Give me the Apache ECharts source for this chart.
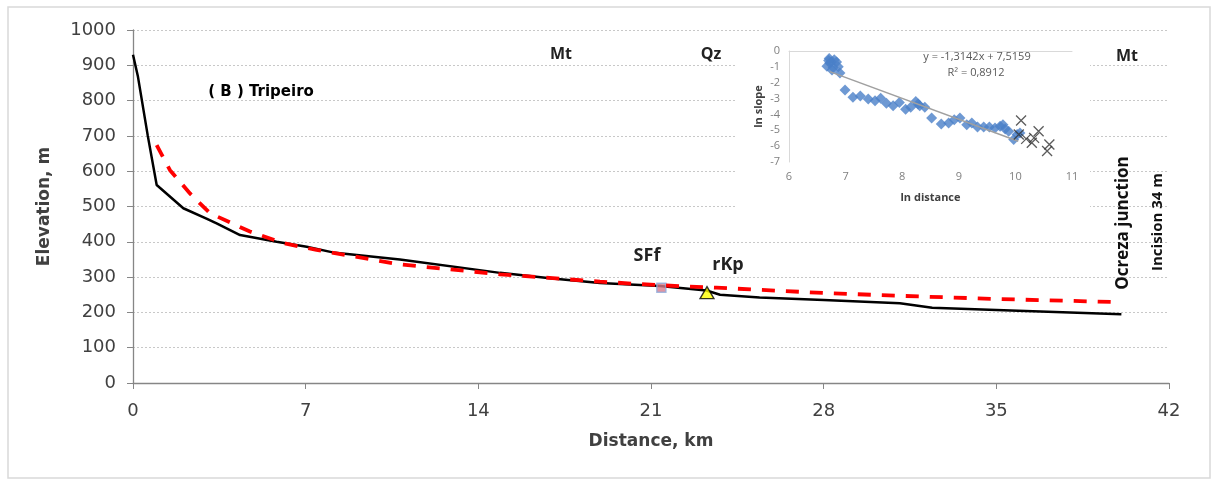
<!DOCTYPE html>
<html>
<head>
<meta charset="utf-8">
<script src="https://cdn.jsdelivr.net/npm/echarts@6/dist/echarts.min.js"></script>
<style>html,body{margin:0;padding:0;background:#fff;}#c{width:1217px;height:487px;}</style>
</head>
<body>
<div id="c"></div>
<script>
// ---- main profile data (km, m) ----
const profileKm   = [0, 0.2, 0.6, 0.96, 2.04, 3.0, 3.39, 4.34, 5.82, 7.04, 8.1, 10.82, 14.88, 16.9, 18.93, 21.36, 23.25, 23.8, 25.4, 28, 31.09, 32.4, 35, 40.07];
const profileElev = [930, 868, 700, 561, 495, 465, 452, 419, 400, 386, 370, 350, 312, 297, 283, 275, 262, 250, 242, 235, 226, 213, 207, 195];
const fitKm   = [0.96, 1.5, 2.31, 3.12, 4.74, 6.1, 7.44, 10.82, 14.88, 18.93, 21.36, 23.65, 25.4, 28, 31.09, 35, 40.07];
const fitElev = [674, 603, 537, 481, 429, 396, 377, 336, 308, 287, 277, 270, 264, 255, 247, 238, 229];
const sffPoint = [21.42, 270];
const rkpPoint = [23.27, 256];
const xTicks = [0, 7, 14, 21, 28, 35, 42];
const yTicks = [0, 100, 200, 300, 400, 500, 600, 700, 800, 900, 1000];

// ---- inset data (ln distance, ln slope) ----
const lnDist  = [6.71, 6.75, 6.67, 6.84, 6.87, 6.78, 6.90, 6.72, 6.80, 6.76, 6.70, 6.99, 7.13, 7.26, 7.40, 7.52, 7.62, 7.72, 7.84, 7.95, 8.06, 8.15, 8.24, 8.28, 8.31, 8.40, 8.52, 8.69, 8.82, 8.92, 9.02, 9.14, 9.23, 9.33, 9.44, 9.54, 9.64, 9.73, 9.78, 9.82, 9.88, 9.97, 10.03, 10.08];
const lnSlope = [-0.48, -0.69, -0.96, -0.69, -1.0, -1.04, -1.38, -0.75, -0.55, -1.2, -0.6, -2.46, -2.92, -2.83, -3.02, -3.13, -2.98, -3.29, -3.46, -3.25, -3.67, -3.54, -3.19, -3.35, -3.46, -3.54, -4.23, -4.60, -4.54, -4.33, -4.23, -4.65, -4.54, -4.79, -4.79, -4.79, -4.85, -4.75, -4.65, -4.92, -5.06, -5.58, -5.27, -5.17];
const lnDistX  = [10.10, 10.06, 10.19, 10.29, 10.33, 10.41, 10.56, 10.60];
const lnSlopeX = [-4.38, -5.27, -5.54, -5.79, -5.48, -5.06, -6.31, -5.90];
const trendX = [6.72, 10.05];
const trendY = [-1.30, -5.69];

const zip = (a, b) => a.map((v, i) => [v, b[i]]);

const chart = echarts.init(document.getElementById('c'));
const mainFont = 'DejaVu Sans';
const calib = 'Open Sans';

chart.setOption({
  animation: false,
  backgroundColor: '#fff',
  grid: [
    { left: 133, right: 48, top: 30, bottom: 104 },
    { left: 789, top: 51, width: 283, height: 111 }
  ],
  xAxis: [
    {
      gridIndex: 0, type: 'value', min: xTicks[0], max: xTicks[xTicks.length - 1], interval: 7,
      name: 'Distance, km', nameLocation: 'middle', nameGap: 50,
      nameTextStyle: { fontFamily: mainFont, fontWeight: 'bold', fontSize: 17, color: '#404040' },
      axisLine: { lineStyle: { color: '#868686', width: 1.3 } },
      axisTick: { show: true, length: 6, lineStyle: { color: '#868686' } },
      axisLabel: { fontFamily: mainFont, fontSize: 18, color: '#404040', margin: 19, formatter: v => String(v) },
      splitLine: { show: false }
    },
    {
      gridIndex: 1, type: 'value', min: 6, max: 11, interval: 1, z: 5,
      name: 'ln distance', nameLocation: 'middle', nameGap: 30,
      nameTextStyle: { fontFamily: calib, fontWeight: 'bold', fontSize: 11, color: '#404040' },
      axisLine: { lineStyle: { color: '#d9d9d9', width: 1 } },
      axisTick: { show: false },
      axisLabel: { fontFamily: calib, fontSize: 11, color: '#808080', margin: 9 },
      splitLine: { show: false }
    }
  ],
  yAxis: [
    {
      gridIndex: 0, type: 'value', min: yTicks[0], max: yTicks[yTicks.length - 1], interval: 100,
      name: 'Elevation, m', nameLocation: 'middle', nameGap: 80, nameRotate: 90,
      nameTextStyle: { fontFamily: mainFont, fontWeight: 'bold', fontSize: 17, color: '#404040' },
      axisLine: { show: true, lineStyle: { color: '#868686', width: 1.3 } },
      axisTick: { show: true, length: 6, lineStyle: { color: '#868686' } },
      axisLabel: { fontFamily: mainFont, fontSize: 18, color: '#404040', margin: 17, formatter: v => String(v) },
      splitLine: { show: true, lineStyle: { color: '#c8c8c8', type: [2, 2], width: 1 } }
    },
    {
      gridIndex: 1, type: 'value', min: -7, max: 0, interval: 1, z: 5,
      name: 'ln slope', nameLocation: 'middle', nameGap: 25, nameRotate: 90,
      nameTextStyle: { fontFamily: calib, fontWeight: 'bold', fontSize: 11, color: '#404040' },
      axisLine: { show: true, lineStyle: { color: '#d9d9d9', width: 1 } },
      axisTick: { show: false },
      axisLabel: { fontFamily: calib, fontSize: 11, color: '#808080', margin: 9 },
      splitLine: { show: false }
    }
  ],
  graphic: [
    { type: 'rect', z: -10, shape: { x: 8, y: 7, width: 1202, height: 471 }, style: { fill: 'none', stroke: '#d9d9d9', lineWidth: 1.5 } },
    { type: 'rect', z: 1, shape: { x: 735, y: 34, width: 355, height: 180 }, style: { fill: '#ffffff' } },
    { type: 'text', z: 10, x: 261, y: 92, style: { text: '( B ) Tripeiro', fontFamily: mainFont, fontWeight: 'bold', fontSize: 15, fill: '#000', align: 'center', verticalAlign: 'middle' } },
    { type: 'text', z: 10, x: 561, y: 54, style: { text: 'Mt', fontFamily: calib, fontWeight: 'bold', fontSize: 16, fill: '#222', align: 'center', verticalAlign: 'middle' } },
    { type: 'text', z: 10, x: 711, y: 54, style: { text: 'Qz', fontFamily: calib, fontWeight: 'bold', fontSize: 16, fill: '#222', align: 'center', verticalAlign: 'middle' } },
    { type: 'text', z: 10, x: 1127, y: 56, style: { text: 'Mt', fontFamily: calib, fontWeight: 'bold', fontSize: 16, fill: '#222', align: 'center', verticalAlign: 'middle' } },
    { type: 'text', z: 10, x: 647, y: 256, style: { text: 'SFf', fontFamily: calib, fontWeight: 'bold', fontSize: 18, fill: '#222', align: 'center', verticalAlign: 'middle' } },
    { type: 'text', z: 10, x: 728, y: 265, style: { text: 'rKp', fontFamily: calib, fontWeight: 'bold', fontSize: 18, fill: '#222', align: 'center', verticalAlign: 'middle' } },
    { type: 'text', z: 10, x: 1123, y: 223, rotation: Math.PI / 2, style: { text: 'Ocreza junction', fontFamily: calib, fontWeight: 'bold', fontSize: 17, fill: '#111', align: 'center', verticalAlign: 'middle' } },
    { type: 'text', z: 10, x: 1158, y: 222, rotation: Math.PI / 2, style: { text: 'Incision 34 m', fontFamily: calib, fontWeight: 'bold', fontSize: 15, fill: '#111', align: 'center', verticalAlign: 'middle' } },
    { type: 'text', z: 10, x: 977, y: 57, style: { text: 'y = -1,3142x + 7,5159', fontFamily: calib, fontSize: 11, fill: '#595959', align: 'center', verticalAlign: 'middle' } },
    { type: 'text', z: 10, x: 976, y: 73, style: { text: 'R² = 0,8912', fontFamily: calib, fontSize: 11, fill: '#595959', align: 'center', verticalAlign: 'middle' } }
  ],
  series: [
    {
      type: 'line', xAxisIndex: 0, yAxisIndex: 0, z: 3, symbol: 'none',
      data: zip(profileKm, profileElev),
      lineStyle: { color: '#000', width: 2.5 }
    },
    {
      type: 'scatter', xAxisIndex: 0, yAxisIndex: 0, z: 4,
      symbol: 'rect', symbolSize: 9,
      data: [sffPoint],
      itemStyle: { color: '#d97a8a', borderColor: '#8eaadb', borderWidth: 1.5 }
    },
    {
      type: 'line', xAxisIndex: 0, yAxisIndex: 0, z: 5, symbol: 'none',
      data: zip(fitKm, fitElev),
      lineStyle: { color: '#ff0000', width: 3.8, type: [13, 11] }
    },
    {
      type: 'scatter', xAxisIndex: 0, yAxisIndex: 0, z: 6,
      symbol: 'triangle', symbolSize: [14, 12],
      data: [rkpPoint],
      itemStyle: { color: '#ffff00', borderColor: '#000', borderWidth: 1.3 }
    },
    {
      type: 'scatter', xAxisIndex: 1, yAxisIndex: 1, z: 6,
      symbol: 'diamond', symbolSize: 11,
      data: zip(lnDist, lnSlope),
      itemStyle: { color: '#4a7fc8' }
    },
    {
      type: 'line', xAxisIndex: 1, yAxisIndex: 1, z: 7, symbol: 'none',
      data: zip(trendX, trendY),
      lineStyle: { color: '#a0a0a0', width: 1.5 }
    },
    {
      type: 'scatter', xAxisIndex: 1, yAxisIndex: 1, z: 8,
      symbol: 'path://M0,0L10,10M10,0L0,10', symbolSize: 10,
      data: zip(lnDistX, lnSlopeX),
      itemStyle: { color: 'none', borderColor: '#333', borderWidth: 1.3 }
    }
  ]
});
</script>
</body>
</html>
